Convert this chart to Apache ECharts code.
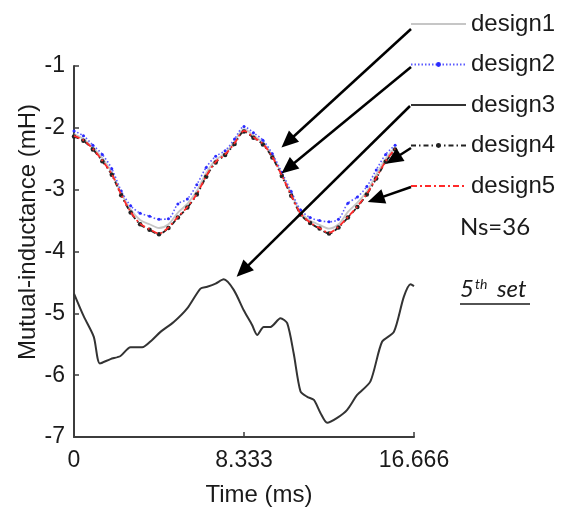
<!DOCTYPE html>
<html>
<head>
<meta charset="utf-8">
<script src="https://cdn.jsdelivr.net/npm/echarts@6/dist/echarts.min.js"></script>
<style>
  html, body { margin: 0; padding: 0; background: #fff; }
  #chart { width: 564px; height: 510px; }
</style>
</head>
<body>
<div id="chart"></div>
<script>
// Sample instants (ms) shared by the five-design curves
const timeTop = [0, 0.463, 0.926, 1.389, 1.852, 2.315, 2.778, 3.241, 3.704, 4.167,
  4.630, 5.093, 5.556, 6.019, 6.481, 6.944, 7.407, 7.870, 8.333, 8.796,
  9.259, 9.722, 10.185, 10.648, 11.111, 11.574, 12.037, 12.500, 12.963, 13.426,
  13.889, 14.352, 14.815, 15.278, 15.741];

// Mutual inductance (mH)
const design1 = [-2.10, -2.18, -2.32, -2.49, -2.72, -3.06, -3.32, -3.49, -3.56, -3.62,
  -3.56, -3.37, -3.23, -3.02, -2.73, -2.52, -2.41, -2.22, -2.02, -2.12,
  -2.24, -2.45, -2.75, -3.07, -3.37, -3.50, -3.57, -3.63, -3.56, -3.36,
  -3.21, -3.03, -2.76, -2.50, -2.32];
const design2 = [-2.05, -2.13, -2.28, -2.43, -2.66, -3.02, -3.26, -3.38, -3.43, -3.48,
  -3.47, -3.23, -3.15, -2.92, -2.64, -2.46, -2.37, -2.18, -1.98, -2.08,
  -2.20, -2.42, -2.72, -3.03, -3.33, -3.45, -3.50, -3.52, -3.48, -3.22,
  -3.12, -2.95, -2.68, -2.43, -2.28];
const design4 = [-2.14, -2.21, -2.35, -2.54, -2.76, -3.09, -3.37, -3.56, -3.65, -3.72,
  -3.62, -3.45, -3.29, -3.08, -2.79, -2.56, -2.44, -2.26, -2.06, -2.16,
  -2.27, -2.48, -2.78, -3.10, -3.40, -3.54, -3.63, -3.71, -3.61, -3.45,
  -3.28, -3.08, -2.82, -2.55, -2.35];
const design5 = [-2.13, -2.20, -2.34, -2.53, -2.75, -3.08, -3.36, -3.55, -3.64, -3.71,
  -3.61, -3.44, -3.28, -3.07, -2.78, -2.55, -2.43, -2.25, -2.05, -2.15,
  -2.26, -2.47, -2.77, -3.09, -3.39, -3.53, -3.62, -3.70, -3.60, -3.44,
  -3.27, -3.07, -2.81, -2.54, -2.34];

// design3 has its own sampling
const time3 = [0, 0.48, 0.97, 1.27, 1.79, 2.28, 2.77, 3.34, 3.83, 4.24,
  4.89, 5.55, 6.20, 6.53, 6.94, 7.34, 7.83, 8.32, 8.73, 8.98,
  9.30, 9.63, 10.12, 10.45, 10.77, 11.10, 11.43, 11.76, 12.08, 12.41,
  12.90, 13.39, 13.88, 14.53, 15.10, 15.68, 16.17, 16.50, 16.666];
const design3 = [-4.68, -5.05, -5.38, -5.81, -5.74, -5.69, -5.55, -5.55, -5.43, -5.30,
  -5.14, -4.92, -4.60, -4.57, -4.52, -4.45, -4.62, -4.95, -5.19, -5.35,
  -5.22, -5.22, -5.08, -5.16, -5.65, -6.26, -6.35, -6.40, -6.61, -6.77,
  -6.69, -6.56, -6.32, -6.10, -5.46, -5.30, -4.73, -4.53, -4.56];

const seriesNames = ['design1', 'design2', 'design3', 'design4', 'design5'];
// legend entries whose icon carries a centre dot
const legendWithDot = { design2: true, design4: true };
const xTickLabels = ['0', '8.333', '16.666'];
const xTicks = [0, 8.333, 16.666];

// Arrow targets in data space (time, inductance) for each legend entry
const arrowTargets = [[10.17, -2.32], [10.17, -2.74], [7.97, -4.41], [15.30, -2.58], [14.40, -3.20]];

const pair = (xs, ys) => xs.map((x, i) => [x, ys[i]]);

const FONT = '"Liberation Sans", Arial, sans-serif';
const NOTE_FONT = 'Lato, "Open Sans", sans-serif';
const chart = echarts.init(document.getElementById('chart'), null, { renderer: 'canvas' });

const axisCommon = {
  axisLine: { show: true, lineStyle: { color: '#3c3c3c', width: 2 } },
  axisTick: { show: true, inside: true, length: 5, lineStyle: { color: '#3c3c3c', width: 1.5 } },
  splitLine: { show: false },
  axisLabel: { color: '#1a1a1a', fontSize: 23, fontFamily: FONT }
};

const option = {
  animation: false,
  backgroundColor: '#ffffff',
  grid: { left: 74, right: 150, top: 66, bottom: 73, containLabel: false },
  xAxis: Object.assign({}, axisCommon, {
    type: 'value', min: 0, max: 16.666, interval: 8.333,
    axisLabel: Object.assign({}, axisCommon.axisLabel, {
      margin: 12,
      formatter: v => {
        const i = xTicks.findIndex(t => Math.abs(t - v) < 1e-6);
        return i >= 0 ? xTickLabels[i] : '';
      }
    })
  }),
  yAxis: Object.assign({}, axisCommon, {
    type: 'value', min: -7, max: -1, interval: 1,
    axisLabel: Object.assign({}, axisCommon.axisLabel, { margin: 9 })
  }),
  legend: {
    data: seriesNames.map(n => legendWithDot[n]
      ? { name: n }
      : { name: n, itemStyle: { opacity: 0 } }),
    orient: 'vertical',
    left: 410, top: 12,
    padding: 0,
    itemWidth: 55, itemHeight: 6, itemGap: 16.5,
    textStyle: { fontSize: 24, fontFamily: FONT, color: '#1a1a1a', padding: [0, 0, 0, 0] },
    selectedMode: false
  },
  series: [
    {
      name: 'design1', type: 'line', data: pair(timeTop, design1),
      symbol: 'none', smooth: 0.3,
      lineStyle: { color: '#c6c6c6', width: 1.8 }, itemStyle: { color: '#c6c6c6' }, z: 2
    },
    {
      name: 'design2', type: 'line', data: pair(timeTop, design2),
      symbol: 'circle', symbolSize: 3, smooth: 0.3,
      lineStyle: { color: '#5a5aff', width: 1.6, type: [1.5, 2] }, itemStyle: { color: '#2a2aff' }, z: 3
    },
    {
      name: 'design3', type: 'line', data: pair(time3, design3),
      symbol: 'none', smooth: 0.25,
      lineStyle: { color: '#333333', width: 2 }, itemStyle: { color: '#333333' }, z: 3
    },
    {
      name: 'design4', type: 'line', data: pair(timeTop, design4),
      symbol: 'circle', symbolSize: 4.5, smooth: 0.3,
      lineStyle: { color: '#222222', width: 1.8, type: [5, 3, 1.5, 3] }, itemStyle: { color: '#222222' }, z: 4
    },
    {
      name: 'design5', type: 'line', data: pair(timeTop, design5),
      symbol: 'none', smooth: 0.3,
      lineStyle: { color: '#ff2a2a', width: 1.8, type: [6, 3, 2, 3] }, itemStyle: { color: '#ff2a2a' }, z: 5
    }
  ]
};
chart.setOption(option);

// Annotation arrows from each legend line to its curve
const arrowStarts = [[411, 29], [411, 67], [410, 106], [411, 148], [411, 187]];
const graphics = [];
arrowTargets.forEach((tgt, i) => {
  const [x1, y1] = arrowStarts[i];
  const [x2, y2] = chart.convertToPixel({ gridIndex: 0 }, tgt);
  const dx = x2 - x1, dy = y2 - y1;
  const len = Math.sqrt(dx * dx + dy * dy);
  const ux = dx / len, uy = dy / len;
  const headL = 17, headW = 7.5;
  const bx = x2 - ux * headL, by = y2 - uy * headL;
  graphics.push({
    type: 'line', silent: true, z: 20,
    shape: { x1: x1, y1: y1, x2: bx + ux * 2, y2: by + uy * 2 },
    style: { stroke: '#000', lineWidth: 2.5 }
  });
  graphics.push({
    type: 'polygon', silent: true, z: 20,
    shape: { points: [[x2, y2], [bx - uy * headW, by + ux * headW], [bx + uy * headW, by - ux * headW]] },
    style: { fill: '#000' }
  });
});

// Axis titles and side notes
graphics.push({
  type: 'text', silent: true, x: 259, y: 495,
  style: { text: 'Time (ms)', font: '24px ' + FONT, fill: '#1a1a1a', align: 'center', verticalAlign: 'middle' }
});
graphics.push({
  type: 'text', silent: true, x: 28, y: 232, rotation: Math.PI / 2,
  style: { text: 'Mutual-inductance (mH)', font: '24px ' + FONT, fill: '#1a1a1a', align: 'center', verticalAlign: 'middle' }
});
graphics.push({
  type: 'text', silent: true, x: 460, y: 227,
  style: { text: 'Ns=36', font: '24px ' + NOTE_FONT, fill: '#1a1a1a', align: 'left', verticalAlign: 'middle' }
});
graphics.push({
  type: 'text', silent: true, x: 460, y: 301,
  style: {
    text: '{n|5}{s|th}{n| set}',
    align: 'left', verticalAlign: 'bottom',
    rich: {
      n: { font: 'italic 24px ' + NOTE_FONT, fill: '#1a1a1a', verticalAlign: 'bottom' },
      s: { font: 'italic 14px ' + NOTE_FONT, fill: '#1a1a1a', verticalAlign: 'top', padding: [0, 4, 10, 1] }
    }
  }
});
graphics.push({
  type: 'line', silent: true,
  shape: { x1: 460, y1: 304, x2: 530, y2: 304 },
  style: { stroke: '#1a1a1a', lineWidth: 1.5 }
});

chart.setOption({ graphic: graphics });
</script>
</body>
</html>
